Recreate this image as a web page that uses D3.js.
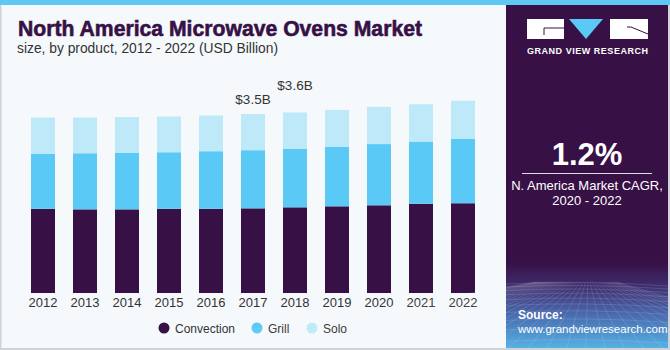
<!DOCTYPE html>
<html><head><meta charset="utf-8">
<script src="https://cdn.jsdelivr.net/npm/d3@7"></script>
<style>html,body{margin:0;padding:0;background:#f5f9fc;}svg{display:block;font-family:"Liberation Sans",Arial,sans-serif;}</style>
</head><body>
<svg id="c" width="670" height="350"></svg>
<script>
const years = ["2012","2013","2014","2015","2016","2017","2018","2019","2020","2021","2022"];
const convection = [1.65,1.64,1.64,1.65,1.65,1.66,1.68,1.70,1.72,1.75,1.76];
const grill      = [1.08,1.10,1.11,1.11,1.13,1.14,1.15,1.17,1.20,1.22,1.26];
const solo       = [0.71,0.70,0.70,0.70,0.70,0.71,0.71,0.72,0.73,0.73,0.75];
const seriesNames = ["Convection","Grill","Solo"];
const seriesColors = ["#371046","#5bc9f5","#bde9f9"];
const annotationYears = ["2017","2018"];
const annotationLabels = ["$3.5B","$3.6B"];
const annotationOffsets = [10, 22];

const svg = d3.select("#c");
svg.append("rect").attr("width",670).attr("height",350).attr("fill","#f5f9fc");

const rows = years.map((y,i)=>({year:y, Convection:convection[i], Grill:grill[i], Solo:solo[i]}));
const stack = d3.stack().keys(seriesNames)(rows);

const x = d3.scaleBand().domain(years).range([31,475]).paddingInner(18/42).paddingOuter(0);
const y = d3.scaleLinear().domain([0,4]).range([293,89]);
const color = d3.scaleOrdinal().domain(seriesNames).range(seriesColors);

const g = svg.append("g");
g.selectAll("g.s").data(stack).join("g").attr("class","s").attr("fill",d=>color(d.key))
  .selectAll("rect").data(d=>d).join("rect")
  .attr("x",d=>x(d.data.year)).attr("width",x.bandwidth())
  .attr("y",d=>y(d[1])).attr("height",d=>y(d[0])-y(d[1]));

// x axis labels
const xAxis = d3.axisBottom(x).tickSize(0).tickPadding(5);
const ax = svg.append("g").attr("transform","translate(0,293)").call(xAxis);
ax.select(".domain").remove();
ax.selectAll("text").attr("font-size",13).attr("fill","#333").attr("font-family","Liberation Sans, Arial, sans-serif");

// annotations
annotationYears.forEach((yr,k)=>{
  const i = years.indexOf(yr);
  const tot = convection[i]+grill[i]+solo[i];
  svg.append("text").attr("x",x(yr)+x.bandwidth()/2).attr("y",y(tot)-annotationOffsets[k])
    .attr("text-anchor","middle").attr("font-size",13.5).attr("fill","#333").text(annotationLabels[k]);
});

// legend
const legX = [164,257,312];
seriesNames.forEach((n,i)=>{
  svg.append("circle").attr("cx",legX[i]).attr("cy",328).attr("r",5.5).attr("fill",seriesColors[i]);
  svg.append("text").attr("x",legX[i]+11).attr("y",332.5).attr("font-size",12).attr("fill","#333").text(n);
});

// titles
svg.append("text").attr("x",18).attr("y",36).attr("font-size",22).attr("font-weight","bold")
  .attr("fill","#371046").attr("stroke","#371046").attr("stroke-width",0.6)
  .attr("textLength",404).attr("lengthAdjust","spacingAndGlyphs")
  .text("North America Microwave Ovens Market");
svg.append("text").attr("x",17).attr("y",53).attr("font-size",14).attr("fill","#333")
  .attr("textLength",261).attr("lengthAdjust","spacingAndGlyphs")
  .text("size, by product, 2012 - 2022 (USD Billion)");

// right panel
const px = 506;
svg.append("rect").attr("x",px).attr("y",0).attr("width",670-px).attr("height",350).attr("fill","#371046");
const defs = svg.append("defs");
const grad = defs.append("linearGradient").attr("id","pg").attr("x1",0).attr("y1",0).attr("x2",0).attr("y2",1);
grad.append("stop").attr("offset","0%").attr("stop-color","#371046");
grad.append("stop").attr("offset","25%").attr("stop-color","#3e2a6a");
grad.append("stop").attr("offset","60%").attr("stop-color","#4a6bb0");
grad.append("stop").attr("offset","100%").attr("stop-color","#55b5e6");
svg.append("rect").attr("x",px).attr("y",262).attr("width",670-px).attr("height",88).attr("fill","url(#pg)");
// perspective grid
const gridG = svg.append("g").attr("stroke","#ffffff").attr("stroke-opacity",0.18).attr("stroke-width",0.7).attr("fill","none");
let hy = 284, step = 3;
while (hy < 350) { gridG.append("path").attr("d",`M${px},${hy} Q${px+80},${hy-4} 668,${hy+2}`); hy += step; step *= 1.18; }
for (let k=-14;k<=22;k++){ const x0 = px+ k*9; gridG.append("line").attr("x1",588+ (x0-588)*0.25).attr("y1",282).attr("x2",x0 + (x0-588)*1.2).attr("y2",350); }

// logo
const lg = svg.append("g");
lg.append("rect").attr("x",527).attr("y",19).attr("width",37).attr("height",20).attr("fill","#fff");
lg.append("path").attr("d","M544,28 L564,28 M544,28 L544,35").attr("stroke","#371046").attr("stroke-width",1);
lg.append("path").attr("d","M569,19 L603,19 L586,39 Z").attr("fill","#5bc9f5");
lg.append("rect").attr("x",610).attr("y",19).attr("width",38).attr("height",20).attr("fill","#fff");
lg.append("path").attr("d","M631,27 L648,34 M627,27 L631,27").attr("stroke","#371046").attr("stroke-width",1);
svg.append("text").attr("x",587.5).attr("y",54).attr("text-anchor","middle").attr("font-size",9).attr("font-weight","bold")
  .attr("fill","#fff").attr("textLength",121).attr("lengthAdjust","spacing").text("GRAND VIEW RESEARCH");

svg.append("text").attr("x",587).attr("y",165).attr("text-anchor","middle").attr("font-size",31).attr("font-weight","bold").attr("fill","#fff").text("1.2%");
svg.append("line").attr("x1",522).attr("x2",652).attr("y1",173.5).attr("y2",173.5).attr("stroke","#ddd").attr("stroke-width",1);
svg.append("text").attr("x",587).attr("y",190).attr("text-anchor","middle").attr("font-size",13).attr("fill","#fff").text("N. America Market CAGR,");
svg.append("text").attr("x",587).attr("y",205).attr("text-anchor","middle").attr("font-size",13).attr("fill","#fff").text("2020 - 2022");
svg.append("text").attr("x",518).attr("y",319).attr("font-size",12).attr("font-weight","bold").attr("fill","#fff").text("Source:");
svg.append("text").attr("x",518).attr("y",333).attr("font-size",11.5).attr("fill","#fff").text("www.grandviewresearch.com");

// frame
svg.append("rect").attr("x",0).attr("y",0).attr("width",670).attr("height",5).attr("fill","#5ec8f2");
svg.append("rect").attr("x",0).attr("y",5).attr("width",1.5).attr("height",345).attr("fill","#cfd3d6");
svg.append("rect").attr("x",0).attr("y",348).attr("width",670).attr("height",2).attr("fill","#cfd3d6");
svg.append("rect").attr("x",668).attr("y",5).attr("width",2).attr("height",345).attr("fill","#cfd3d6");
</script>
</body></html>
